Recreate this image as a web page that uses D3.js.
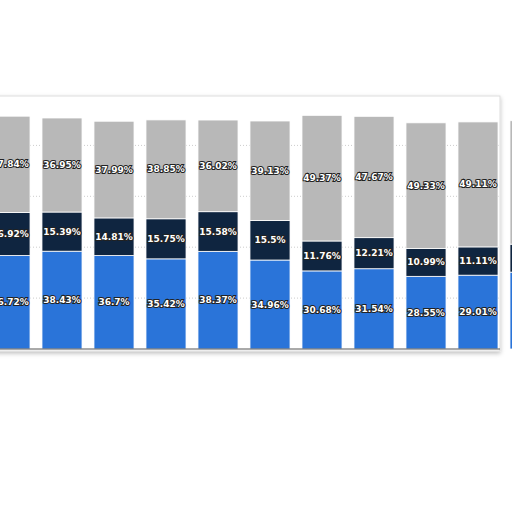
<!DOCTYPE html>
<html><head><meta charset="utf-8">
<script src="https://cdn.jsdelivr.net/npm/d3@7"></script>
<style>body{margin:0;background:#fff}</style></head>
<body><svg id="chart" width="512" height="512"></svg>
<script>
const categories = d3.range(11);
const blueVals = [36.72, 38.43, 36.7, 35.42, 38.37, 34.96, 30.68, 31.54, 28.55, 29.01, 30.2];
const navyVals = [16.92, 15.39, 14.81, 15.75, 15.58, 15.5, 11.76, 12.21, 10.99, 11.11, 11.0];
const grayVals = [37.84, 36.95, 37.99, 38.85, 36.02, 39.13, 49.37, 47.67, 49.33, 49.11, 48.5];
const gridTicks = [20, 40, 60, 80];

const svg = d3.select('#chart');
const defs = svg.append('defs');
const f = defs.append('filter').attr('id', 'sh').attr('x', '-5%').attr('y', '-5%').attr('width', '110%').attr('height', '115%');
f.append('feDropShadow').attr('dx', 0).attr('dy', 2).attr('stdDeviation', 2).attr('flood-color', '#000').attr('flood-opacity', 0.25);

// frame
svg.append('rect').attr('x', -5).attr('y', 96).attr('width', 505).attr('height', 255)
    .attr('fill', '#fff').attr('stroke', '#ddd').attr('filter', 'url(#sh)');

const x = d3.scaleBand().domain(categories).range([-16, 556]).paddingInner(0.23).paddingOuter(0.115);
const y = d3.scaleLinear().domain([0, 100]).range([349, 94.5]);

svg.selectAll('.grid').data(gridTicks).join('line')
    .attr('x1', 0).attr('x2', 500).attr('y1', d => y(d)).attr('y2', d => y(d))
    .attr('stroke', '#ccc').attr('stroke-dasharray', '1,2');

const series = [
    {vals: blueVals, color: '#2a74d9'},
    {vals: navyVals, color: '#0f2540'},
    {vals: grayVals, color: '#b8b8b8'}
];
const base = categories.map(() => 0);
series.forEach(s => {
    const segs = categories.map(i => ({i, y0: base[i], y1: base[i] + s.vals[i], v: s.vals[i]}));
    segs.forEach(d => base[d.i] = d.y1);
    svg.append('g').selectAll('rect').data(segs).join('rect')
        .attr('x', d => x(d.i)).attr('width', x.bandwidth())
        .attr('y', d => y(d.y1)).attr('height', d => y(d.y0) - y(d.y1))
        .attr('fill', s.color).attr('stroke', '#fff').attr('stroke-width', 0.8);
    svg.append('g').selectAll('text').data(segs).join('text')
        .attr('x', d => x(d.i) + x.bandwidth() / 2).attr('y', d => y((d.y0 + d.y1) / 2) + 3)
        .attr('text-anchor', 'middle').attr('font-family', 'DejaVu Sans').attr('font-weight', 'bold')
        .attr('font-size', 9).attr('fill', '#fff').attr('stroke', '#222').attr('stroke-width', 2)
        .attr('paint-order', 'stroke').text(d => d.v + '%');
});
svg.append('line').attr('x1', 0).attr('x2', 500).attr('y1', 349).attr('y2', 349).attr('stroke', '#555');
</script></body></html>
